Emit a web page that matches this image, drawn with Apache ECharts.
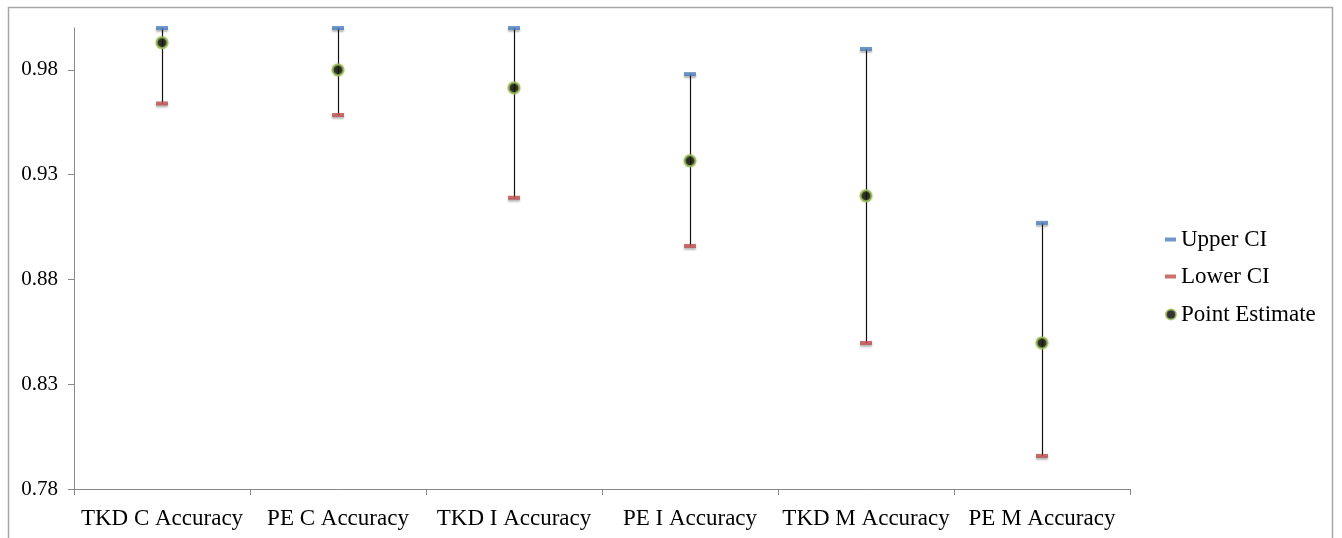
<!DOCTYPE html>
<html>
<head>
<meta charset="utf-8">
<script src="https://cdn.jsdelivr.net/npm/echarts@6/dist/echarts.min.js"></script>
<style>
html, body { margin: 0; padding: 0; background: #fff; }
#main { width: 1342px; height: 538px; }
</style>
</head>
<body>
<div id="main"></div>
<script type="text/javascript">
// categories and values
var categories = ['TKD C Accuracy', 'PE C Accuracy', 'TKD I Accuracy', 'PE I Accuracy', 'TKD M Accuracy', 'PE M Accuracy'];
var upperCI = [1.0, 1.0, 1.0, 0.978, 0.990, 0.907];
var lowerCI = [0.964, 0.9585, 0.919, 0.896, 0.8497, 0.7958];
var pointEstimate = [0.993, 0.980, 0.9714, 0.9366, 0.9199, 0.8497];

var chart = echarts.init(document.getElementById('main'));
var font = 'Liberation Serif';

// error bar data: [index, lower, upper]
var barData = [];
for (var i = 0; i < categories.length; i++) {
	barData.push([i, lowerCI[i], upperCI[i]]);
}

var markShadow = { shadowBlur: 2, shadowOffsetY: 2, shadowColor: 'rgba(0,0,0,0.35)' };

var option = {
	backgroundColor: '#fff',
	animation: false,
	grid: { left: 74, right: 212, top: 28, bottom: 49 },
	graphic: [{
		type: 'rect',
		shape: { x: 8.5, y: 7.5, width: 1324, height: 560 },
		style: { fill: 'none', stroke: '#a6a6a6', lineWidth: 1.5 },
		silent: true
	}],
	legend: [{
		orient: 'vertical',
		left: 1160,
		top: 223,
		itemWidth: 11,
		itemHeight: 4,
		itemGap: 14,
		icon: 'rect',
		data: ['Upper CI', 'Lower CI'],
		textStyle: { fontFamily: font, fontSize: 23, color: '#000' }
	}, {
		orient: 'vertical',
		left: 1160,
		top: 298,
		itemWidth: 10,
		itemHeight: 10,
		icon: 'circle',
		data: ['Point Estimate'],
		textStyle: { fontFamily: font, fontSize: 23, color: '#000' }
	}],
	xAxis: {
		type: 'category',
		data: categories,
		boundaryGap: true,
		axisLine: { lineStyle: { color: '#888', width: 1 } },
		axisTick: { show: true, alignWithLabel: false, length: 6, lineStyle: { color: '#888' } },
		axisLabel: { fontFamily: font, fontSize: 23, color: '#000', margin: 18, interval: 0 },
		splitLine: { show: false }
	},
	yAxis: {
		type: 'value',
		min: 0.78,
		max: 1.0,
		interval: 0.05,
		axisLine: { show: true, lineStyle: { color: '#888', width: 1 } },
		axisTick: { show: true, length: 6, lineStyle: { color: '#888' } },
		axisLabel: {
			fontFamily: font, fontSize: 21, color: '#000', margin: 16,
			showMaxLabel: false,
			formatter: function (v) { return v.toFixed(2); }
		},
		splitLine: { show: false }
	},
	series: [{
		type: 'custom',
		name: 'bars',
		data: barData,
		z: 1,
		renderItem: function (params, api) {
			var lo = api.coord([api.value(0), api.value(1)]);
			var hi = api.coord([api.value(0), api.value(2)]);
			return {
				type: 'line',
				shape: { x1: Math.round(lo[0]) + 0.5, y1: lo[1], x2: Math.round(hi[0]) + 0.5, y2: hi[1] },
				style: { stroke: '#111', lineWidth: 1.2 }
			};
		}
	}, {
		type: 'scatter',
		name: 'Upper CI',
		data: upperCI,
		symbol: 'rect',
		symbolSize: [12, 4],
		z: 3,
		itemStyle: Object.assign({ color: '#4a7ebb' }, markShadow)
	}, {
		type: 'scatter',
		name: 'Lower CI',
		data: lowerCI,
		symbol: 'rect',
		symbolSize: [12, 4],
		z: 3,
		itemStyle: Object.assign({ color: '#be4b48' }, markShadow)
	}, {
		type: 'scatter',
		name: 'Point Estimate',
		data: pointEstimate,
		symbol: 'circle',
		symbolSize: 11,
		z: 4,
		itemStyle: {
			color: '#000',
			borderColor: '#9bbb59',
			borderWidth: 2,
			shadowBlur: 2,
			shadowColor: 'rgba(155,187,89,0.6)'
		}
	}]
};

chart.setOption(option);
</script>
</body>
</html>
